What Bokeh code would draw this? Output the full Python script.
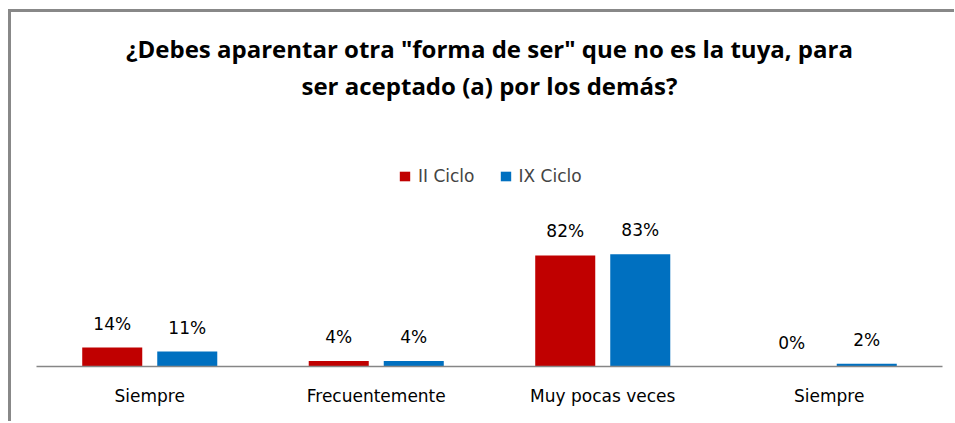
import numpy as np
from bokeh.plotting import figure
from bokeh.models import ColumnDataSource, Range1d, FixedTicker, Label, Legend, LegendItem
from bokeh.transform import dodge
from bokeh.embed import file_html
from bokeh.resources import INLINE
from bokeh.core.properties import value

# ---- data ----
title_lines = ['¿Debes aparentar otra "forma de ser" que no es la tuya, para',
               'ser aceptado (a) por los demás?']
categories = ["Siempre", "Frecuentemente", "Muy pocas veces", "Siempre"]
series_names = ["II Ciclo", "IX Ciclo"]
ii_ciclo = [14, 4, 82, 0]
ix_ciclo = [11, 4, 83, 2]
colors = ["#C00000", "#0070C0"]

xpos = list(range(len(categories)))
src = ColumnDataSource(dict(
    x=xpos,
    ii=ii_ciclo,
    ix=ix_ciclo,
    ii_lbl=[f"{v}%" for v in ii_ciclo],
    ix_lbl=[f"{v}%" for v in ix_ciclo],
))

FRAME_H = 354
Y_END = 261.5
p = figure(width=946, height=412, output_backend="svg", toolbar_location=None, tools="",
           x_range=Range1d(-0.5, len(categories) - 0.5), y_range=Range1d(0, Y_END),
           y_axis_location=None,
           min_border_left=25, min_border_right=15, min_border_top=0, min_border_bottom=58)
p.toolbar.logo = None
p.title.visible = False
p.styles = {"border-top": "3px solid #888888", "border-left": "3px solid #888888",
            "margin-left": "8px", "margin-top": "9px", "overflow": "clip"}
p.outline_line_color = None
p.xgrid.visible = False
p.ygrid.visible = False
p.background_fill_color = "white"
p.border_fill_color = "white"

OFF = 0.1656
BW = 0.265
r1 = p.vbar(x=dodge("x", -OFF), top="ii", width=BW, source=src,
            fill_color=colors[0], line_color=None)
r2 = p.vbar(x=dodge("x", OFF), top="ix", width=BW, source=src,
            fill_color=colors[1], line_color=None)

for col, off in (("ii", -OFF), ("ix", OFF)):
    p.text(x=dodge("x", off), y=col, text=col + "_lbl", source=src,
           text_align="center", text_baseline="middle", y_offset=-24,
           text_font=value("DejaVu Sans"), text_font_size="17px", text_color="#000000")

# title
px_per_unit = FRAME_H / Y_END
for line, ypix in zip(title_lines, (318, 281)):
    p.add_layout(Label(x=(len(categories) - 1) / 2, y=ypix / px_per_unit, text=line,
                       text_align="center", text_baseline="middle",
                       text_font="Open Sans", text_font_style="bold",
                       text_font_size="24px", text_color="#000000"))

legend = Legend(items=[LegendItem(label=series_names[0], renderers=[r1]),
                       LegendItem(label=series_names[1], renderers=[r2])],
                orientation="horizontal", location=(362, 180),
                glyph_width=13, glyph_height=12, label_standoff=7, spacing=24,
                padding=0, margin=0, border_line_color=None, background_fill_alpha=0,
                label_text_font="DejaVu Sans", label_text_font_size="17px",
                label_height=12)
p.add_layout(legend)

ax = p.xaxis[0]
ax.ticker = FixedTicker(ticks=xpos)
ax.major_label_overrides = {i: c for i, c in enumerate(categories)}
ax.major_tick_line_color = None
ax.minor_tick_line_color = None
ax.axis_line_color = "#868686"
ax.axis_line_width = 1.5
ax.major_label_text_font = "DejaVu Sans"
ax.major_label_text_font_size = "17px"
ax.major_label_text_color = "#000000"
ax.major_label_standoff = 13

open("out.html", "w").write(file_html(p, INLINE))
